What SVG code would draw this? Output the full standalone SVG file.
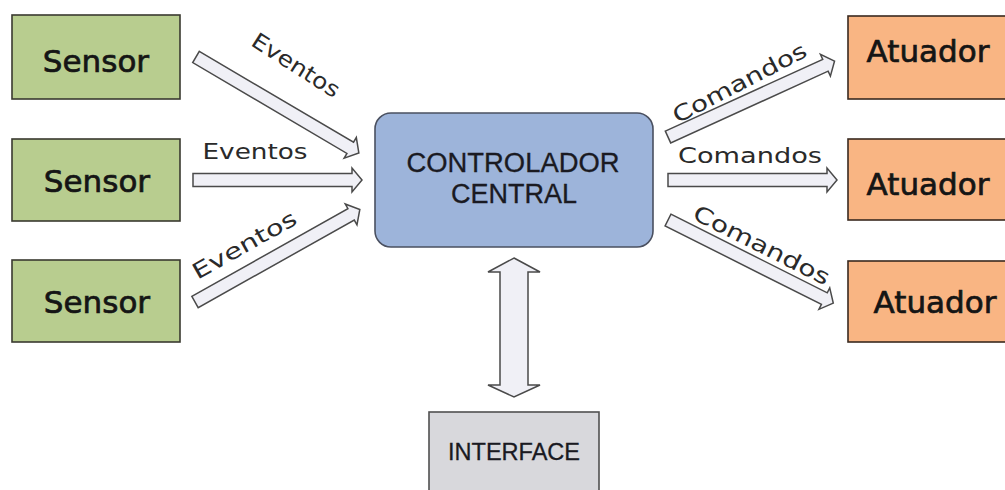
<svg xmlns="http://www.w3.org/2000/svg" width="1005" height="490" viewBox="0 0 1005 490">
<style>
.sensor{fill:#b8cd8f;stroke:#3a3a30;stroke-width:1.6}
.atuador{fill:#f9b583;stroke:#3a2a20;stroke-width:1.6}
.ctrl{fill:#9db4da;stroke:#4a5060;stroke-width:1.6}
.iface{fill:#d8d8dc;stroke:#505050;stroke-width:1.6}
.big{font-family:"DejaVu Sans",Verdana,sans-serif;font-size:31px;fill:#151515;stroke:#151515;stroke-width:0.7;text-anchor:middle}
.cap{font-family:"Liberation Sans",Arial,sans-serif;fill:#1a1a22;stroke:#1a1a22;stroke-width:0.3;text-anchor:middle}
.lbl{font-family:"DejaVu Sans",Verdana,sans-serif;font-size:22px;fill:#2a2a2a;text-anchor:middle}
.arr{fill:#f0f0f6;stroke:#4a4a4a;stroke-width:1.5;stroke-linejoin:miter}
</style>
<rect width="1005" height="490" fill="#ffffff"/>

<g id="sensor1"><rect class="sensor" x="12" y="15" width="168" height="84"/><text class="big" x="96" y="72">Sensor</text></g>
<g id="sensor2"><rect class="sensor" x="12" y="139" width="168" height="82"/><text class="big" x="97" y="192">Sensor</text></g>
<g id="sensor3"><rect class="sensor" x="12" y="260" width="168" height="82"/><text class="big" x="97" y="313">Sensor</text></g>

<g id="controlador"><rect class="ctrl" x="375" y="113" width="278" height="134" rx="16" ry="16"/>
<text class="cap" x="513" y="172" font-size="27" textLength="213" lengthAdjust="spacingAndGlyphs">CONTROLADOR</text>
<text class="cap" x="514" y="203" font-size="27">CENTRAL</text></g>

<g id="atuador1"><rect class="atuador" x="848" y="16" width="165" height="83"/><text class="big" x="928" y="62">Atuador</text></g>
<g id="atuador2"><rect class="atuador" x="848" y="139" width="165" height="81"/><text class="big" x="928" y="195">Atuador</text></g>
<g id="atuador3"><rect class="atuador" x="848" y="261" width="165" height="81"/><text class="big" x="935" y="313">Atuador</text></g>

<g id="interface"><rect class="iface" x="429" y="412" width="170" height="90"/>
<text class="cap" x="514" y="460" font-size="24" textLength="132" lengthAdjust="spacingAndGlyphs">INTERFACE</text></g>

<g id="connectors">
<g transform="translate(196,57) rotate(30.5)">
<path class="arr" d="M0,-6.5 L179,-6.5 L179,-12 L189,0 L179,12 L179,6.5 L0,6.5 Z"/>
<text class="lbl" x="90" y="-36" transform="rotate(2 90 -36)" textLength="100" lengthAdjust="spacingAndGlyphs">Eventos</text>
</g>
<g transform="translate(193,180)">
<path class="arr" d="M0,-6.5 L159,-6.5 L159,-12 L169,0 L159,12 L159,6.5 L0,6.5 Z"/>
</g>
<text class="lbl" x="255" y="159" textLength="105" lengthAdjust="spacingAndGlyphs">Eventos</text>
<g transform="translate(195,302) rotate(-29.3)">
<path class="arr" d="M0,-6.5 L179,-6.5 L179,-12 L189,0 L179,12 L179,6.5 L0,6.5 Z"/>
<text class="lbl" x="71" y="-18" font-size="24" textLength="116" lengthAdjust="spacingAndGlyphs">Eventos</text>
</g>

<g transform="translate(668,137) rotate(-24.5)">
<path class="arr" d="M0,-6.5 L173,-6.5 L173,-12 L183,0 L173,12 L173,6.5 L0,6.5 Z"/>
<text class="lbl" x="88" y="-12" font-size="23" transform="rotate(-3 88 -12)" textLength="148" lengthAdjust="spacingAndGlyphs">Comandos</text>
</g>
<g transform="translate(668,180)">
<path class="arr" d="M0,-6.5 L159,-6.5 L159,-12 L169,0 L159,12 L159,6.5 L0,6.5 Z"/>
</g>
<text class="lbl" x="750" y="163" font-size="23" textLength="144" lengthAdjust="spacingAndGlyphs">Comandos</text>
<g transform="translate(668,220) rotate(26.7)">
<path class="arr" d="M0,-6.5 L175,-6.5 L175,-12 L185,0 L175,12 L175,6.5 L0,6.5 Z"/>
<text class="lbl" x="95" y="-12" font-size="23" textLength="150" lengthAdjust="spacingAndGlyphs">Comandos</text>
</g>

<path class="arr" d="M514,258 L540,272 L528,272 L528,385 L540,385 L514,397 L488,385 L500,385 L500,272 L488,272 Z"/>
</g>
</svg>
